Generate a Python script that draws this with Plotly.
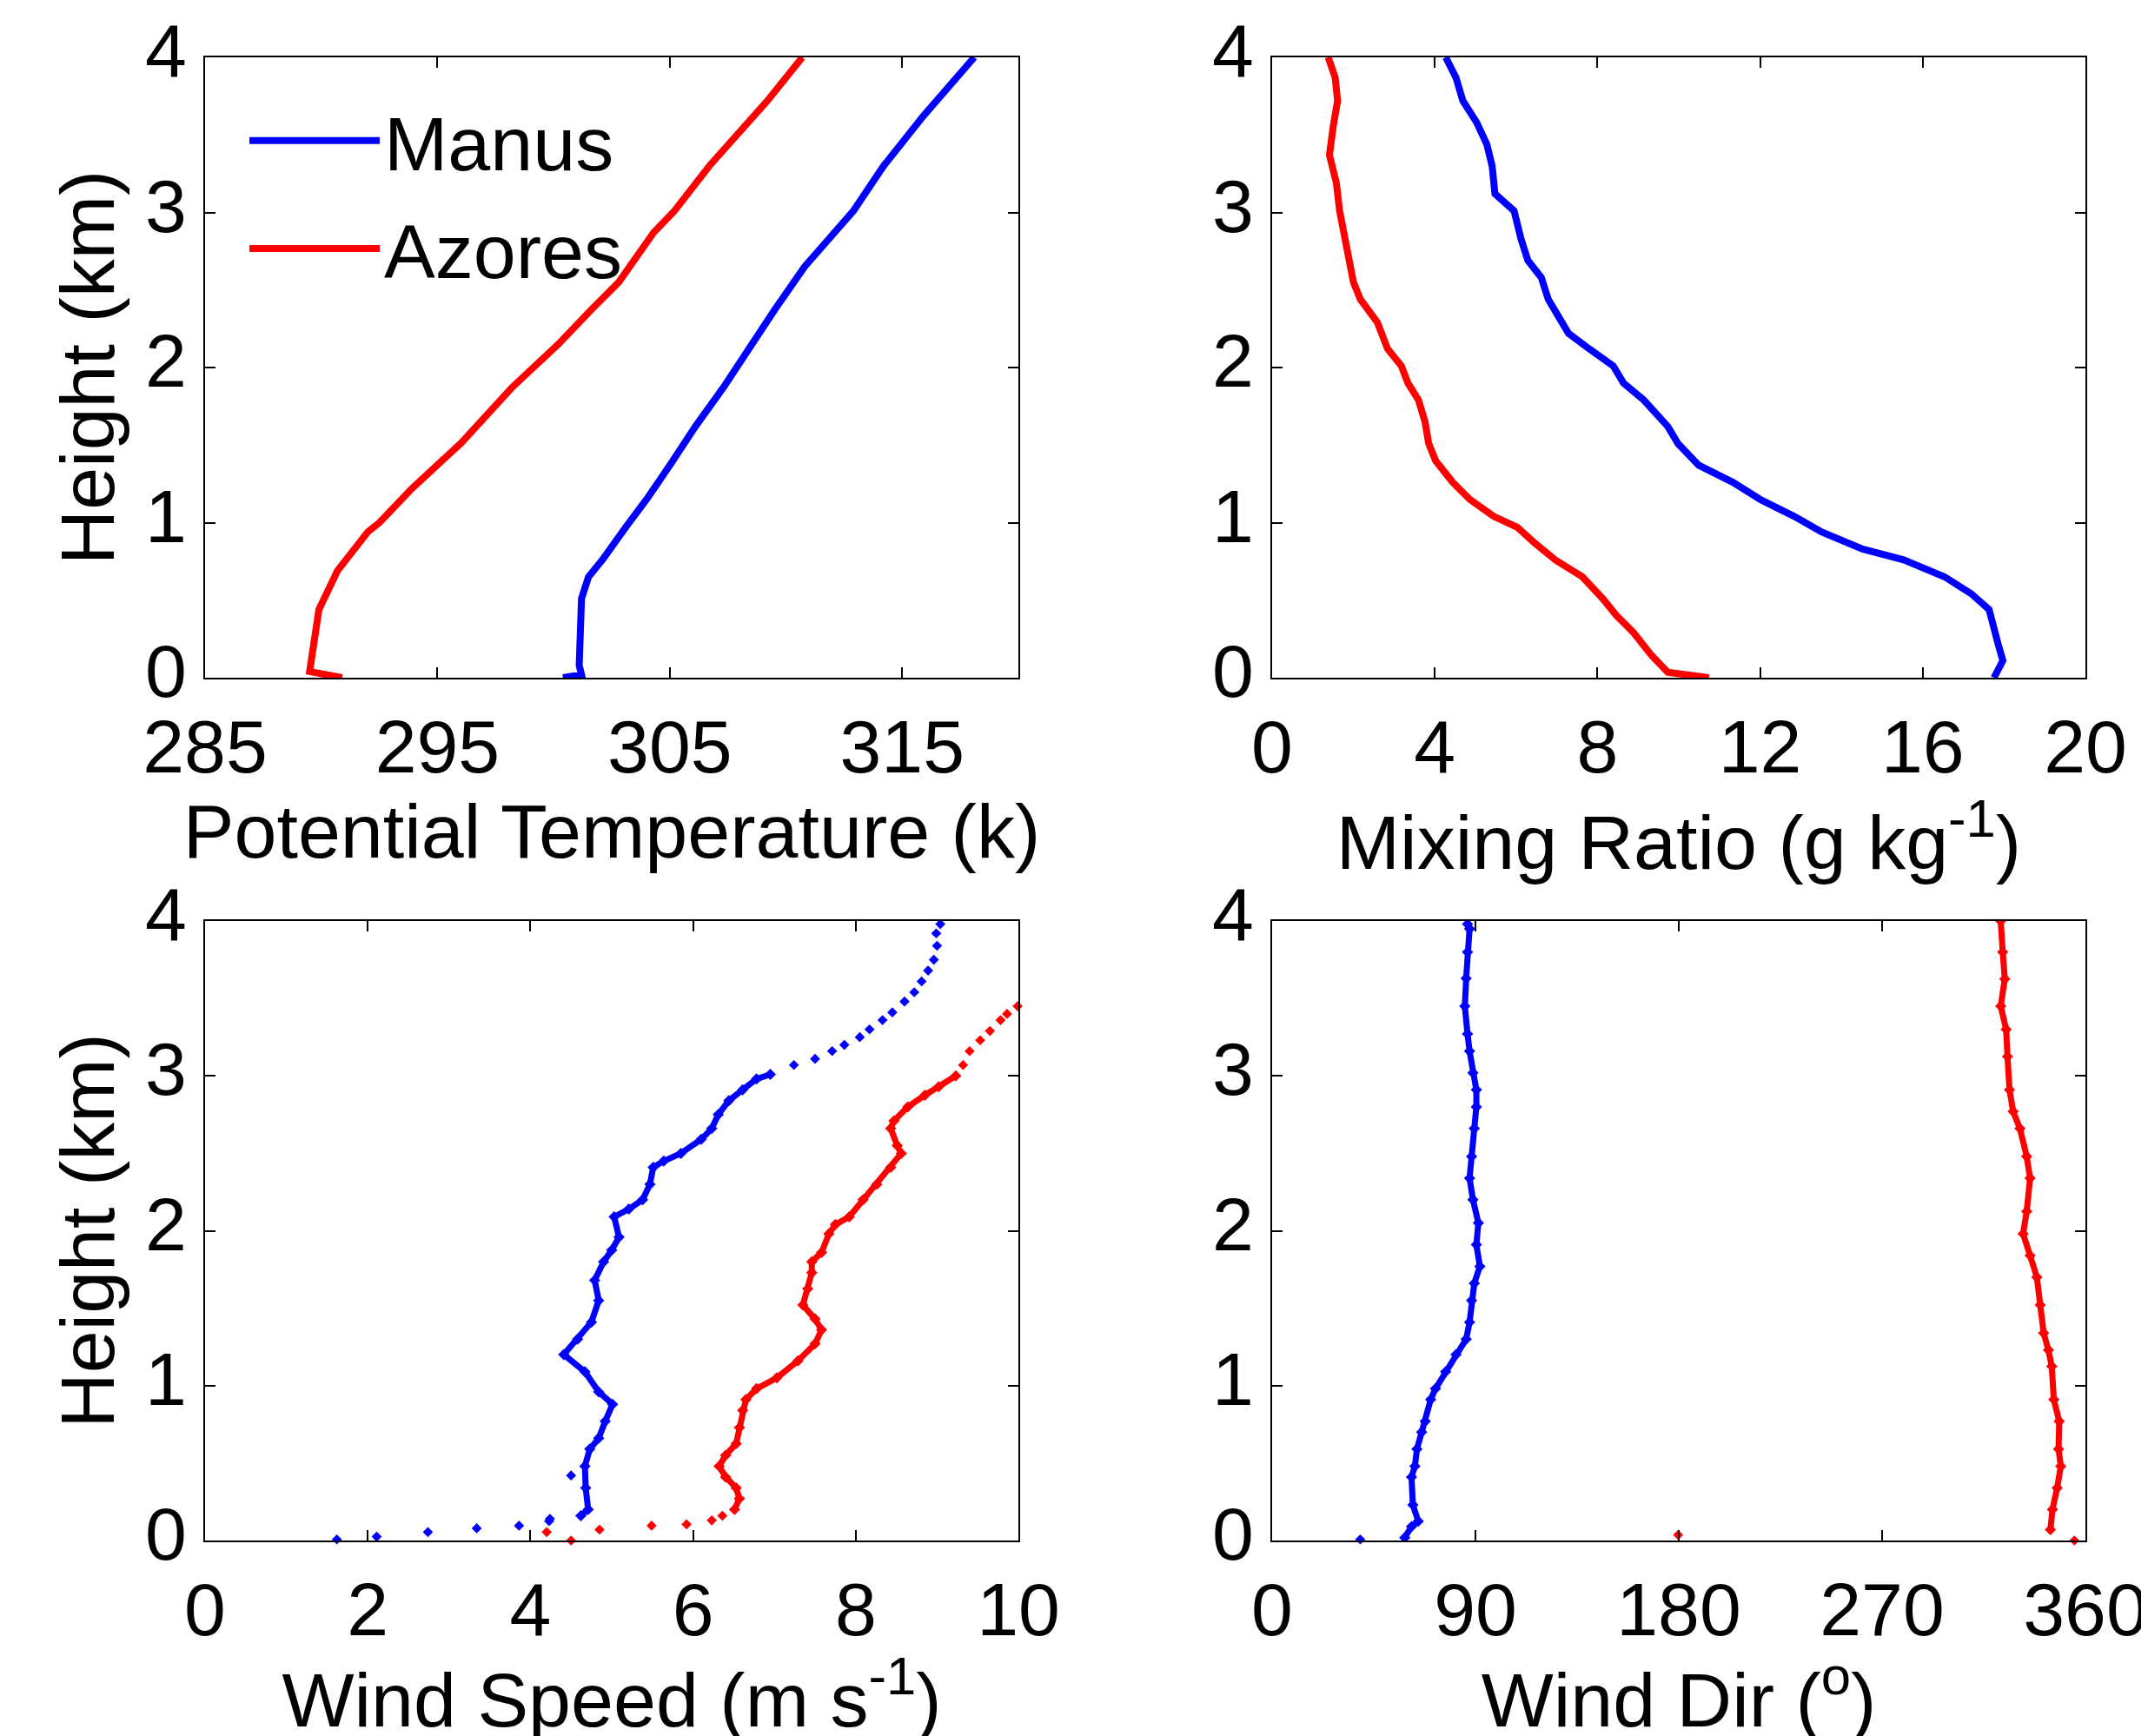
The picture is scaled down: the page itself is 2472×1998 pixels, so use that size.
import plotly.graph_objects as go

# ---------------- data ----------------
# Potential temperature (K) vs height (km)
manus_theta_z = [0.0, 0.02, 0.08, 0.51, 0.65, 0.76, 0.97, 1.15, 1.37, 1.62, 1.87, 2.08, 2.37, 2.65, 3.01, 3.30, 3.62, 4.0]
manus_theta = [300.4, 301.2, 301.1, 301.2, 301.5, 302.1, 303.1, 304.0, 305.0, 306.1, 307.3, 308.2, 309.5, 310.8, 312.9, 314.2, 315.9, 318.1]
azores_theta_z = [0.0, 0.04, 0.44, 0.61, 0.69, 0.94, 1.0, 1.22, 1.51, 1.87, 2.15, 2.37, 2.55, 2.87, 3.01, 3.30, 3.51, 3.72, 4.0]
azores_theta = [290.9, 289.5, 289.9, 290.4, 290.7, 292.0, 292.5, 293.9, 296.0, 298.2, 300.2, 301.6, 302.8, 304.3, 305.2, 306.7, 308.0, 309.2, 310.7]

# Mixing ratio (g/kg)
manus_q_z = [0.0, 0.11, 0.22, 0.44, 0.54, 0.65, 0.76, 0.83, 0.94, 1.04, 1.15, 1.26, 1.37, 1.51, 1.62, 1.79, 1.90, 2.01, 2.12, 2.22, 2.33, 2.44, 2.58, 2.69, 2.83, 3.01, 3.12, 3.30, 3.44, 3.58, 3.72, 3.87, 4.0]
manus_q = [17.75, 17.97, 17.85, 17.63, 17.2, 16.54, 15.53, 14.52, 13.51, 12.84, 12.0, 11.33, 10.49, 9.98, 9.73, 9.14, 8.64, 8.39, 7.80, 7.29, 7.04, 6.79, 6.62, 6.29, 6.12, 5.95, 5.48, 5.41, 5.28, 5.03, 4.69, 4.52, 4.27]
azores_q_z = [0.0, 0.035, 0.15, 0.29, 0.40, 0.51, 0.65, 0.76, 0.87, 0.97, 1.04, 1.15, 1.26, 1.40, 1.51, 1.65, 1.79, 1.90, 2.01, 2.12, 2.29, 2.44, 2.55, 2.76, 3.01, 3.19, 3.37, 3.55, 3.72, 3.87, 4.0]
azores_q = [10.74, 9.73, 9.31, 8.89, 8.47, 8.13, 7.63, 6.96, 6.45, 6.03, 5.45, 4.86, 4.44, 4.02, 3.85, 3.76, 3.60, 3.34, 3.18, 2.84, 2.59, 2.17, 2.00, 1.83, 1.66, 1.58, 1.41, 1.50, 1.61, 1.55, 1.38]

# Wind speed (m/s): sparse points, and the dense profile
manus_ws_sparse_z = [0.007, 0.025, 0.054, 0.079, 0.096, 0.125, 0.14, 0.42,
                     3.07, 3.11, 3.16, 3.20, 3.25, 3.30, 3.36, 3.41, 3.48, 3.54, 3.61, 3.68, 3.75, 3.84, 3.92, 3.98]
manus_ws_sparse = [1.62, 2.11, 2.74, 3.34, 3.86, 4.23, 4.24, 4.50,
                   7.24, 7.50, 7.71, 7.86, 8.05, 8.17, 8.33, 8.45, 8.60, 8.72, 8.81, 8.89, 8.96, 9.00, 8.99, 9.04]
manus_ws_z = [0.16, 0.20, 0.34, 0.48, 0.59, 0.66, 0.77, 0.88, 0.96, 1.09, 1.20, 1.30, 1.41, 1.55, 1.68, 1.80, 1.875, 1.96, 2.09, 2.14, 2.20, 2.30, 2.41, 2.45, 2.50, 2.59, 2.66, 2.75, 2.84, 2.91, 2.98, 3.01]
manus_ws = [4.62, 4.71, 4.68, 4.67, 4.73, 4.84, 4.92, 5.01, 4.84, 4.67, 4.41, 4.58, 4.75, 4.84, 4.79, 4.90, 5.0, 5.09, 5.03, 5.21, 5.38, 5.47, 5.51, 5.64, 5.85, 6.10, 6.23, 6.31, 6.44, 6.61, 6.78, 6.95]
azores_ws_sparse_z = [0.0, 0.054, 0.07, 0.096, 0.104, 0.13, 0.16,
                      3.07, 3.16, 3.23, 3.29, 3.36, 3.40, 3.45]
azores_ws_sparse = [4.50, 4.20, 4.85, 5.49, 5.92, 6.23, 6.36,
                    9.32, 9.40, 9.53, 9.65, 9.78, 9.86, 9.99]
azores_ws_z = [0.20, 0.27, 0.34, 0.41, 0.48, 0.55, 0.625, 0.73, 0.84, 0.91, 0.98, 1.05, 1.16, 1.27, 1.36, 1.43, 1.52, 1.625, 1.73, 1.80, 1.86, 1.98, 2.04, 2.09, 2.20, 2.30, 2.41, 2.50, 2.55, 2.66, 2.71, 2.80, 2.875, 2.93, 3.0]
azores_ws = [6.51, 6.57, 6.53, 6.40, 6.32, 6.40, 6.53, 6.57, 6.61, 6.65, 6.78, 7.03, 7.29, 7.50, 7.58, 7.50, 7.35, 7.41, 7.46, 7.46, 7.58, 7.67, 7.75, 7.92, 8.09, 8.26, 8.43, 8.56, 8.51, 8.43, 8.47, 8.64, 8.85, 9.02, 9.23]

# Wind direction (deg)
manus_wd_sparse_z = [0.007]
manus_wd_sparse = [39.0]
manus_wd_z = [0.018, 0.09, 0.125, 0.23, 0.41, 0.48, 0.59, 0.70, 0.77, 0.91, 0.98, 1.09, 1.20, 1.30, 1.41, 1.55, 1.66, 1.77, 1.91, 2.05, 2.20, 2.34, 2.48, 2.66, 2.80, 2.91, 3.02, 3.16, 3.27, 3.45, 3.63, 3.80, 3.95, 3.98]
manus_wd = [58.7, 61.7, 64.7, 62.3, 61.7, 63.2, 64.1, 66.2, 67.8, 70.2, 72.3, 76.8, 81.4, 85.9, 87.4, 88.3, 89.5, 91.95, 90.4, 91.3, 88.9, 87.4, 88.3, 89.5, 90.4, 90.4, 88.9, 87.4, 86.5, 85.3, 85.9, 86.5, 87.4, 86.5]
azores_wd_sparse_z = [0.036, 0.0]
azores_wd_sparse = [179.7, 355.1]
azores_wd_z = [0.07, 0.20, 0.34, 0.48, 0.59, 0.77, 0.91, 1.125, 1.23, 1.34, 1.52, 1.70, 1.84, 1.98, 2.125, 2.34, 2.48, 2.66, 2.77, 2.91, 3.125, 3.30, 3.45, 3.625, 3.80, 4.0]
azores_wd = [344.5, 345.4, 347.5, 349.1, 348.1, 348.4, 346.0, 345.1, 343.6, 341.5, 340.0, 338.5, 335.5, 332.4, 334.0, 335.5, 334.0, 331.0, 328.0, 326.4, 325.5, 324.9, 322.5, 324.3, 323.4, 322.5]

BLUE = "#0000ff"
RED = "#ff0000"
FONT = "Liberation Sans"
LW = 8
WLW = 7

fig = go.Figure()

# top-left
fig.add_trace(go.Scatter(x=manus_theta, y=manus_theta_z, mode="lines", line=dict(color=BLUE, width=LW),
                         name="Manus", legendgroup="m", xaxis="x", yaxis="y"))
fig.add_trace(go.Scatter(x=azores_theta, y=azores_theta_z, mode="lines", line=dict(color=RED, width=LW),
                         name="Azores", legendgroup="a", xaxis="x", yaxis="y"))
# top-right
fig.add_trace(go.Scatter(x=azores_q, y=azores_q_z, mode="lines", line=dict(color=RED, width=LW),
                         showlegend=False, xaxis="x2", yaxis="y2"))
fig.add_trace(go.Scatter(x=manus_q, y=manus_q_z, mode="lines", line=dict(color=BLUE, width=LW),
                         showlegend=False, xaxis="x2", yaxis="y2"))

mk = dict(symbol="diamond", size=9)
# bottom-left
for xs, zs, c in [(manus_ws, manus_ws_z, BLUE), (azores_ws, azores_ws_z, RED)]:
    fig.add_trace(go.Scatter(x=xs, y=zs, mode="lines+markers", line=dict(color=c, width=WLW),
                             marker=dict(color=c, symbol="diamond", size=10),
                             showlegend=False, xaxis="x3", yaxis="y3"))
for xs, zs, c in [(manus_ws_sparse, manus_ws_sparse_z, BLUE), (azores_ws_sparse, azores_ws_sparse_z, RED)]:
    fig.add_trace(go.Scatter(x=xs, y=zs, mode="markers", marker=dict(color=c, **mk),
                             showlegend=False, xaxis="x3", yaxis="y3", cliponaxis=False))
# bottom-right
for xs, zs, c in [(manus_wd, manus_wd_z, BLUE), (azores_wd, azores_wd_z, RED)]:
    fig.add_trace(go.Scatter(x=xs, y=zs, mode="lines+markers", line=dict(color=c, width=WLW),
                             marker=dict(color=c, symbol="diamond", size=10),
                             showlegend=False, xaxis="x4", yaxis="y4"))
for xs, zs, c in [(manus_wd_sparse, manus_wd_sparse_z, BLUE), (azores_wd_sparse, azores_wd_sparse_z, RED)]:
    fig.add_trace(go.Scatter(x=xs, y=zs, mode="markers", marker=dict(color=c, **mk),
                             showlegend=False, xaxis="x4", yaxis="y4", cliponaxis=False))

W, H = 2472, 1998
OFF = 8  # page body margin
xd_left = [(236 - OFF) / W, (1172 - OFF) / W]
xd_right = [(1464 - OFF) / W, (2400 - OFF) / W]
yd_top = [1 - (780 - OFF) / H, 1 - (66 - OFF) / H]
yd_bot = [1 - (1773 - OFF) / H, 1 - (1060 - OFF) / H]

TICKF = dict(family=FONT, size=86, color="black")
TITLEF = dict(family=FONT, size=88, color="black")


def xax(dom, anchor, rng, dtick, tick0, title, standoff=18):
    return dict(domain=dom, anchor=anchor, range=rng, dtick=dtick, tick0=tick0,
                automargin=False, ticklabeloverflow="allow",
                showline=True, linecolor="black", linewidth=2, mirror="ticks",
                ticks="inside", ticklen=12, tickwidth=2, tickcolor="black",
                showgrid=False, zeroline=False, tickfont=TICKF,
                ticklabelstandoff=4,
                title=dict(text=title, font=TITLEF, standoff=standoff))


def yax(dom, anchor, title=None):
    d = dict(domain=dom, anchor=anchor, range=[0, 4], dtick=1, tick0=0,
             automargin=False, ticklabeloverflow="allow",
             showline=True, linecolor="black", linewidth=2, mirror="ticks",
             ticks="inside", ticklen=12, tickwidth=2, tickcolor="black",
             showgrid=False, zeroline=False, tickfont=TICKF,
             ticklabelstandoff=2, ticklabelshift=-8)
    if title:
        d["title"] = dict(text=title, font=TITLEF, standoff=6)
    return d


fig.update_layout(
    width=W, height=H,
    margin=dict(l=0, r=0, t=0, b=0, autoexpand=False),
    paper_bgcolor="white", plot_bgcolor="white",
    font=dict(family=FONT, color="black"),
    xaxis=xax(xd_left, "y", [285, 320], 10, 285, "Potential Temperature (k)"),
    yaxis=yax(yd_top, "x", "Height (km)"),
    xaxis2=xax(xd_right, "y2", [0, 20], 4, 0, "Mixing Ratio (g kg<sup>-1</sup>)", standoff=28),
    yaxis2=yax(yd_top, "x2"),
    xaxis3=xax(xd_left, "y3", [0, 10], 2, 0, "Wind Speed (m s<sup>-1</sup>)", standoff=28),
    yaxis3=yax(yd_bot, "x3", "Height (km)"),
    xaxis4=xax(xd_right, "y4", [0, 360], 90, 0, "Wind Dir (<sup>o</sup>)", standoff=28),
    yaxis4=yax(yd_bot, "x4"),
    legend=dict(x=(282 - OFF) / W, y=1 - (98 - OFF) / H, xanchor="left", yanchor="top",
                bgcolor="rgba(0,0,0,0)", borderwidth=0,
                font=dict(family=FONT, size=88, color="black"),
                itemwidth=150, traceorder="grouped", tracegroupgap=7),
    showlegend=True,
)

fig.write_html("out.html")
